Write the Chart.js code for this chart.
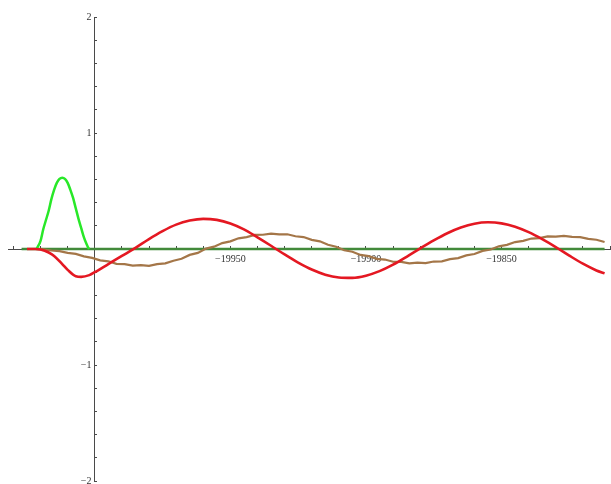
<!DOCTYPE html>
<html>
<head>
<meta charset="utf-8">
<script src="https://cdn.jsdelivr.net/npm/chart.js@4"></script>
<style>
  body { margin: 0; background: #fff; }
  #wrap { width: 611px; height: 484px; }
</style>
</head>
<body>
<div id="wrap"><canvas id="plot"></canvas></div>
<script>
// values
var redX = [-20025, -20022, -20020, -20017, -20015, -20012, -20010, -20007, -20005, -20002, -20000,
  -19995, -19990, -19985, -19980, -19975, -19970, -19965, -19960, -19955, -19950, -19945, -19940,
  -19935, -19930, -19925, -19920, -19915, -19910, -19905, -19900, -19895, -19890, -19885, -19880,
  -19875, -19870, -19865, -19860, -19855, -19850, -19845, -19840, -19835, -19830, -19825, -19820,
  -19815, -19812];
var redY = [0, 0, -0.005, -0.03, -0.06, -0.13, -0.18, -0.235, -0.24, -0.225, -0.2,
  -0.13, -0.06, 0.01, 0.086, 0.154, 0.21, 0.245, 0.26, 0.251, 0.22, 0.169, 0.1,
  0.028, -0.047, -0.117, -0.177, -0.221, -0.245, -0.249, -0.23, -0.191, -0.135, -0.067, 0.005,
  0.074, 0.136, 0.185, 0.218, 0.23, 0.221, 0.192, 0.145, 0.085, 0.017, -0.057, -0.127,
  -0.185, -0.21];

var bumpX = [-20021.5, -20021, -20020, -20019, -20018, -20017, -20016, -20015, -20014, -20013, -20012,
  -20011, -20010, -20009, -20008, -20007, -20006, -20005, -20004, -20003, -20002.5, -20002];
var bumpY = [0, 0.02, 0.07, 0.17, 0.25, 0.33, 0.43, 0.51, 0.57, 0.605, 0.615,
  0.605, 0.57, 0.51, 0.44, 0.35, 0.26, 0.18, 0.1, 0.04, 0.015, 0];

var brownX = [];
for (var k = 0; k <= 70; k++) brownX.push(-20022 + 3 * k);
var brownY = [0, -0.004, -0.013, -0.018, -0.033, -0.042, -0.063, -0.077, -0.098, -0.106,
  -0.128, -0.131, -0.143, -0.139, -0.146, -0.131, -0.124, -0.101, -0.084, -0.051,
  -0.034, 0.003, 0.02, 0.051, 0.066, 0.092, 0.102, 0.121, 0.123, 0.133,
  0.126, 0.127, 0.11, 0.103, 0.079, 0.066, 0.036, 0.019, -0.011, -0.024,
  -0.051, -0.062, -0.085, -0.091, -0.11, -0.111, -0.123, -0.117, -0.122, -0.108,
  -0.106, -0.087, -0.079, -0.055, -0.043, -0.016, -0.004, 0.023, 0.036, 0.06,
  0.07, 0.09, 0.094, 0.108, 0.106, 0.113, 0.104, 0.102, 0.087, 0.08, 0.06];

var baseX = [-20027, -19812];
var baseY = [0, 0];

function pts(xs, ys) {
  var out = [];
  for (var i = 0; i < xs.length; i++) out.push({x: xs[i], y: ys[i]});
  return out;
}

var tickFont = {family: "'Liberation Serif', 'DejaVu Serif', serif", size: 10};

function xLabel(v) {
  if (v % 50 !== 0 || v === -20000) return '';
  return '\u2212' + Math.abs(v);
}
function yLabel(v) {
  var r = Math.round(v);
  if (Math.abs(v - r) > 1e-6 || r === 0) return '';
  // trailing space keeps the label off the axis line
  return (r < 0 ? '\u2212' : '') + Math.abs(r) + ' \u200A';
}
// axes sit inside the plot, so they must not eat any layout space
function noSpace(s) {
  if (s.isHorizontal()) s.height = 0; else s.width = 0;
  s.paddingLeft = s.paddingRight = s.paddingTop = s.paddingBottom = 0;
}

var ctx = document.getElementById('plot');
var plot = new Chart(ctx, {
  type: 'line',
  data: {
    datasets: [
      {data: pts(redX, redY), borderColor: 'rgb(228,24,34)', borderWidth: 2.6,
        cubicInterpolationMode: 'monotone', pointRadius: 0, order: 1},
      {data: pts(bumpX, bumpY), borderColor: 'rgb(40,232,40)', borderWidth: 2.5,
        cubicInterpolationMode: 'monotone', pointRadius: 0, order: 2},
      {data: pts(brownX, brownY), borderColor: 'rgb(164,118,72)', borderWidth: 2.2,
        tension: 0, pointRadius: 0, order: 3},
      {data: pts(baseX, baseY), borderColor: 'rgb(66,138,58)', borderWidth: 2.5,
        tension: 0, pointRadius: 0, order: 4}
    ]
  },
  options: {
    responsive: true,
    maintainAspectRatio: false,
    animation: false,
    layout: {padding: {left: 8, right: 1, top: 17, bottom: 3}},
    plugins: {legend: {display: false}, tooltip: {enabled: false}},
    scales: {
      x: {
        type: 'linear', min: -20032, max: -19810, position: {y: 0},
        afterFit: noSpace,
        border: {display: true, color: '#4a4a4a', width: 1},
        grid: {display: true, drawOnChartArea: false, drawTicks: true, tickLength: -4,
          tickColor: '#4a4a4a', tickWidth: 1},
        ticks: {stepSize: 10, includeBounds: false, autoSkip: false, maxRotation: 0,
          maxTicksLimit: 100, padding: 8, font: tickFont, color: '#333', callback: xLabel}
      },
      y: {
        type: 'linear', min: -2, max: 2, position: {x: -20000},
        afterFit: noSpace,
        border: {display: true, color: '#4a4a4a', width: 1},
        grid: {display: true, drawOnChartArea: false, drawTicks: true, tickLength: -3,
          tickColor: '#4a4a4a', tickWidth: 1},
        ticks: {stepSize: 0.2, autoSkip: false, maxTicksLimit: 100, padding: 14,
          font: tickFont, color: '#333', callback: yLabel}
      }
    }
  }
});
</script>
</body>
</html>
